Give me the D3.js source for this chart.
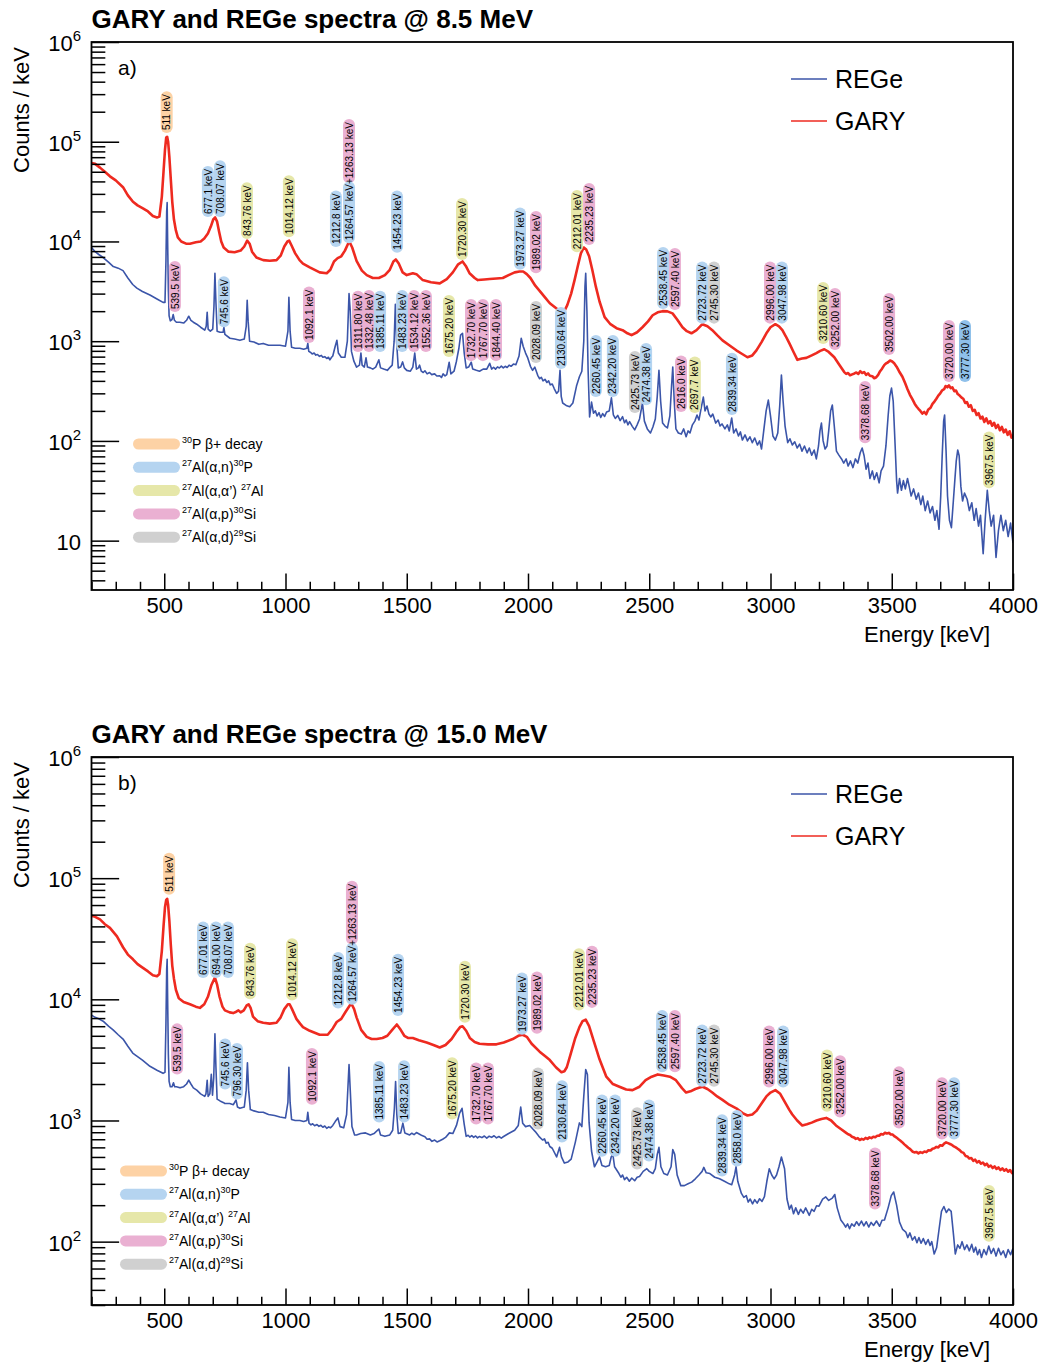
<!DOCTYPE html>
<html>
<head>
<meta charset="utf-8">
<script src="https://cdn.jsdelivr.net/npm/d3@7"></script>
<style>
  body { margin: 0; background: #fff; }
  svg { display: block; }
  text { font-family: "Liberation Sans", Arial, Helvetica, sans-serif; fill: #000; }
</style>
</head>
<body>
<svg id="chart" width="1042" height="1364"></svg>
<script>
// ---------- data: [energy keV, counts/keV] ----------
const energyMajorTicks = [500, 1000, 1500, 2000, 2500, 3000, 3500, 4000];

const garyA = [[200,61000],[215,60000],[235,55000],[255,50000],[276,45000],[300,41000],[330,35000],[350,29000],[371,25000],[390,23000],[412,21500],[433,20000],[453,18000],[470,17400],[480,17800],[490,28000],[497,50000],[503,83000],[508,110000],[512,112000],[516,100000],[521,71000],[527,42000],[533,25000],[540,16600],[548,12900],[556,11000],[570,10000],[590,9500],[606,9500],[630,9800],[650,10000],[665,10700],[680,12000],[692,14100],[702,16600],[710,17400],[718,15800],[726,12600],[735,10000],[745,8700],[765,7900],[790,7800],[815,8100],[830,8900],[842,10200],[852,9500],[862,7900],[880,6900],[908,6500],[935,6400],[963,6500],[980,7200],[995,8900],[1008,10000],[1015,10200],[1025,9100],[1040,7600],[1058,6500],[1072,6000],[1100,5500],[1141,4900],[1170,4800],[1185,5200],[1200,6300],[1215,6800],[1230,7100],[1245,8100],[1258,9500],[1265,9800],[1275,8700],[1293,6400],[1315,5100],[1335,4600],[1360,4300],[1385,4300],[1410,4600],[1430,5200],[1445,6300],[1455,6600],[1467,6000],[1483,4900],[1500,4600],[1525,4800],[1540,4700],[1566,4100],[1600,3900],[1636,3800],[1665,4200],[1690,4900],[1712,5900],[1730,6300],[1745,5600],[1759,4800],[1780,4300],[1793,4100],[1820,4150],[1842,4200],[1870,4250],[1896,4300],[1920,4600],[1945,4900],[1965,5000],[1980,5000],[1995,4700],[2010,4300],[2030,3600],[2048,3200],[2070,2750],[2090,2400],[2115,2150],[2138,1950],[2150,2000],[2162,2300],[2178,3000],[2192,4100],[2205,5600],[2218,7600],[2230,8700],[2240,8300],[2252,7100],[2265,5200],[2280,3500],[2295,2500],[2316,1740],[2340,1480],[2365,1350],[2390,1290],[2410,1200],[2427,1150],[2450,1230],[2472,1380],[2495,1580],[2514,1820],[2535,1950],[2555,2000],[2575,1990],[2596,1900],[2615,1650],[2637,1380],[2655,1260],[2674,1200],[2695,1290],[2719,1480],[2740,1410],[2760,1290],[2780,1150],[2802,1020],[2830,910],[2859,810],[2885,740],[2905,690],[2925,720],[2942,810],[2963,980],[2983,1200],[3000,1380],[3020,1480],[3035,1410],[3049,1290],[3063,1120],[3078,950],[3095,780],[3111,650],[3130,670],[3148,680],[3170,720],[3189,760],[3205,800],[3222,830],[3240,780],[3263,690],[3285,575],[3304,490],[3312,470],[3320,480],[3328,455],[3337,465],[3346,475],[3354,485],[3362,470],[3370,500],[3378,480],[3386,490],[3394,460],[3402,475],[3410,450],[3420,445],[3428,425],[3436,435],[3444,460],[3452,500],[3460,530],[3469,575],[3477,600],[3485,615],[3493,640],[3502,625],[3510,600],[3520,555],[3530,500],[3544,440],[3555,380],[3565,330],[3575,290],[3585,262],[3595,235],[3603,220],[3610,210],[3618,200],[3626,188],[3634,195],[3642,185],[3650,205],[3660,215],[3668,235],[3676,248],[3684,265],[3692,285],[3700,300],[3708,322],[3716,330],[3722,355],[3729,345],[3736,360],[3743,338],[3750,345],[3758,315],[3765,320],[3772,295],[3780,285],[3788,272],[3795,265],[3803,240],[3810,245],[3818,220],[3826,228],[3834,200],[3842,205],[3850,182],[3858,190],[3866,168],[3874,175],[3882,155],[3890,168],[3898,150],[3906,158],[3914,142],[3922,152],[3930,135],[3938,145],[3946,128],[3954,138],[3962,122],[3970,130],[3978,115],[3986,125],[3994,108],[4000,115]];

const regeA = [[200,8700],[215,7900],[230,7400],[248,6900],[270,6200],[290,5600],[310,5400],[330,5100],[350,4300],[370,3700],[387,3400],[410,3150],[441,2900],[470,2650],[495,2450],[503,2450],[507,6300],[510,20000],[512,24500],[514,10000],[517,3200],[520,1800],[525,1600],[532,1650],[537,1850],[542,1620],[550,1550],[564,1550],[580,1520],[592,1620],[601,1780],[610,1620],[620,1550],[634,1480],[650,1380],[667,1290],[673,1410],[677,1950],[681,1320],[690,1260],[700,1320],[705,2240],[709,4800],[713,2500],[718,1260],[730,1230],[743,1230],[746,1380],[750,1170],[771,1070],[790,1050],[812,1020],[830,1050],[838,1410],[842,2570],[846,1580],[852,1000],[870,980],[890,930],[908,950],[930,910],[955,910],[977,910],[1000,890],[1010,1260],[1014,2750],[1019,1260],[1025,870],[1040,850],[1059,850],[1075,830],[1088,850],[1092,950],[1096,790],[1104,770],[1110,745],[1118,760],[1125,725],[1132,735],[1140,705],[1148,720],[1154,690],[1162,700],[1170,670],[1177,690],[1183,650],[1190,690],[1195,710],[1205,890],[1212,1020],[1218,760],[1230,690],[1245,690],[1255,1000],[1262,3000],[1267,2000],[1272,790],[1282,630],[1293,550],[1305,575],[1311,760],[1316,575],[1325,550],[1332,680],[1338,550],[1350,540],[1360,525],[1372,550],[1385,650],[1392,540],[1405,525],[1420,510],[1432,550],[1440,575],[1448,1000],[1453,2350],[1458,1000],[1465,540],[1475,550],[1483,620],[1490,540],[1500,510],[1515,500],[1525,550],[1533,760],[1540,525],[1548,540],[1553,575],[1560,500],[1568,485],[1575,505],[1584,470],[1594,485],[1603,462],[1615,470],[1624,448],[1636,450],[1643,432],[1650,470],[1658,448],[1665,462],[1675,615],[1682,470],[1695,500],[1705,630],[1715,850],[1722,1150],[1730,1200],[1737,760],[1745,540],[1755,550],[1766,615],[1772,525],[1787,510],[1800,500],[1815,525],[1830,525],[1842,600],[1850,525],[1858,548],[1866,525],[1874,552],[1882,538],[1890,562],[1898,540],[1906,560],[1914,545],[1922,575],[1930,560],[1940,590],[1950,580],[1963,710],[1972,1070],[1980,890],[1990,760],[1999,680],[2010,560],[2019,510],[2028,550],[2040,455],[2048,420],[2055,435],[2062,400],[2070,415],[2078,385],[2085,400],[2092,365],[2100,372],[2108,335],[2118,300],[2126,315],[2132,510],[2137,280],[2143,240],[2160,225],[2172,220],[2185,240],[2200,355],[2212,440],[2222,500],[2230,1000],[2235,3550],[2238,4800],[2243,2000],[2248,500],[2254,174],[2262,245],[2270,190],[2278,200],[2285,178],[2293,192],[2300,172],[2308,188],[2316,176],[2324,195],[2335,200],[2344,270],[2352,182],[2360,168],[2370,180],[2380,160],[2390,175],[2398,152],[2405,162],[2412,145],[2419,156],[2430,140],[2440,129],[2450,145],[2460,166],[2472,240],[2480,158],[2492,132],[2505,120],[2515,138],[2525,166],[2533,280],[2540,510],[2547,250],[2555,151],[2565,141],[2575,135],[2585,178],[2592,355],[2597,550],[2603,250],[2610,132],[2620,120],[2632,117],[2642,132],[2652,110],[2660,126],[2668,120],[2678,145],[2688,158],[2697,182],[2705,162],[2715,219],[2723,275],[2730,200],[2738,224],[2746,186],[2754,174],[2762,186],[2774,151],[2784,162],[2792,141],[2800,148],[2812,132],[2822,145],[2830,126],[2840,170],[2848,120],[2858,132],[2868,112],[2876,123],[2884,102],[2895,115],[2905,100],[2915,110],[2925,96],[2935,107],[2946,91],[2955,100],[2963,83],[2972,126],[2982,200],[2991,257],[3000,178],[3010,112],[3020,102],[3030,120],[3038,224],[3045,457],[3052,250],[3060,141],[3071,96],[3080,105],[3090,91],[3100,98],[3110,85],[3120,93],[3130,79],[3140,89],[3151,76],[3160,85],[3170,72],[3180,81],[3189,66],[3198,89],[3204,126],[3210,151],[3217,100],[3225,83],[3233,89],[3240,126],[3248,200],[3255,229],[3263,141],[3272,79],[3282,72],[3293,66],[3302,60],[3312,66],[3320,56],[3330,63],[3340,54],[3350,66],[3360,60],[3370,76],[3378,85],[3386,71],[3394,52],[3402,60],[3410,42],[3420,50],[3428,41],[3438,48],[3448,38],[3456,50],[3466,56],[3476,89],[3485,178],[3492,282],[3499,339],[3506,251],[3514,89],[3520,40],[3524,30],[3532,42],[3540,32],[3548,40],[3556,33],[3565,42],[3572,35],[3580,28],[3590,33],[3601,26],[3610,30],[3620,23],[3628,28],[3638,20],[3648,25],[3658,19],[3668,22],[3678,16],[3686,20],[3695,13],[3702,28],[3708,71],[3714,158],[3718,182],[3724,79],[3730,28],[3738,16],[3746,13.5],[3754,25],[3760,40],[3766,63],[3772,81],[3778,71],[3785,35],[3792,25],[3800,30],[3811,26],[3820,20],[3830,24],[3840,16],[3848,21],[3858,14],[3866,18],[3877,7.4],[3885,16],[3894,32],[3902,20],[3910,14],[3920,18],[3930,6.8],[3940,12.6],[3950,18],[3960,12.6],[3970,16],[3980,11],[3990,15],[4000,9.5]];

const garyB = [[200,49000],[215,48000],[235,45700],[255,41700],[276,38900],[305,33100],[330,26900],[350,23400],[371,21400],[390,19500],[412,18200],[433,17000],[453,15800],[470,15500],[480,16200],[490,25000],[497,40000],[503,57500],[508,66000],[512,67600],[516,60000],[521,44700],[527,28200],[533,19000],[540,14800],[548,12000],[560,10200],[580,9500],[606,9100],[630,8700],[647,8500],[665,9100],[680,10500],[695,13200],[709,15100],[718,13200],[728,10500],[740,8700],[750,8100],[770,7800],[784,7700],[797,7900],[806,8100],[815,7800],[828,8100],[840,8900],[848,9100],[856,8500],[866,7200],[885,6600],[908,6400],[935,6300],[963,6400],[980,7100],[995,8300],[1010,9100],[1017,9100],[1027,8300],[1045,6900],[1060,6300],[1072,5900],[1100,5500],[1141,5100],[1174,5100],[1195,5750],[1211,6500],[1230,6900],[1248,7900],[1265,8900],[1273,9100],[1283,8300],[1293,7100],[1312,5600],[1335,4900],[1355,4700],[1376,4700],[1400,4800],[1420,5000],[1440,5600],[1459,6200],[1475,5600],[1490,5000],[1505,4800],[1525,4800],[1550,4600],[1582,4400],[1610,4200],[1636,4000],[1660,4200],[1685,4700],[1705,5400],[1720,5900],[1730,6000],[1745,5500],[1760,4800],[1780,4450],[1800,4300],[1835,4250],[1870,4250],[1900,4400],[1937,4700],[1960,5000],[1978,5100],[1995,4900],[2015,4300],[2048,3700],[2070,3400],[2090,3150],[2115,2750],[2138,2500],[2150,2550],[2160,2750],[2177,3600],[2195,4800],[2212,5900],[2225,6600],[2238,6800],[2252,6000],[2270,4600],[2295,3200],[2323,2300],[2350,2000],[2377,1900],[2405,1800],[2431,1780],[2460,1900],[2485,2150],[2510,2300],[2535,2400],[2560,2350],[2585,2300],[2610,2150],[2635,1850],[2652,1700],[2670,1740],[2690,1820],[2705,1860],[2720,1900],[2740,1820],[2760,1700],[2780,1580],[2802,1480],[2830,1350],[2859,1260],[2885,1150],[2905,1100],[2925,1120],[2942,1200],[2963,1380],[2983,1580],[3000,1700],[3020,1780],[3040,1660],[3060,1410],[3077,1230],[3090,1120],[3110,1000],[3131,910],[3150,930],[3170,960],[3190,1000],[3210,1030],[3230,1050],[3250,1000],[3270,910],[3290,850],[3312,790],[3320,770],[3328,760],[3336,735],[3344,725],[3352,705],[3360,715],[3368,690],[3376,705],[3384,695],[3392,718],[3400,705],[3408,725],[3416,715],[3424,735],[3432,728],[3440,748],[3448,750],[3456,772],[3464,765],[3472,792],[3480,780],[3488,790],[3496,768],[3504,765],[3512,738],[3520,722],[3528,700],[3536,680],[3543,662],[3552,635],[3560,615],[3568,595],[3576,580],[3585,555],[3593,545],[3601,550],[3610,535],[3618,548],[3626,540],[3635,555],[3643,548],[3651,568],[3660,565],[3668,585],[3676,590],[3684,605],[3692,600],[3700,625],[3708,618],[3716,645],[3724,660],[3732,650],[3740,640],[3748,628],[3756,612],[3764,600],[3772,585],[3780,570],[3788,548],[3796,540],[3804,510],[3812,505],[3820,485],[3828,490],[3836,465],[3844,475],[3852,450],[3860,462],[3868,440],[3876,450],[3884,428],[3892,440],[3900,415],[3908,425],[3916,405],[3924,418],[3932,398],[3940,410],[3948,390],[3956,402],[3964,385],[3972,396],[3980,378],[3988,390],[3996,368],[4000,378]];

const regeB = [[200,7400],[215,7100],[230,6900],[248,6600],[270,6000],[289,5600],[310,5100],[330,4700],[350,4100],[370,3600],[387,3400],[410,3150],[441,2800],[470,2600],[495,2450],[503,2500],[507,6300],[510,17800],[512,21400],[514,10000],[517,3500],[520,2100],[525,1900],[532,1900],[538,2050],[543,1900],[550,1900],[565,1860],[580,1900],[592,2000],[601,2150],[610,2000],[620,1860],[634,1780],[650,1660],[667,1580],[672,1660],[677,2150],[681,1580],[688,1660],[694,2400],[699,1620],[704,2240],[709,5200],[713,2800],[718,1500],[730,1450],[743,1410],[750,1380],[770,1380],[785,1350],[796,1480],[802,1290],[812,1260],[830,1290],[838,1780],[843,3000],[848,1780],[855,1230],[870,1200],[890,1170],[908,1170],[930,1120],[955,1100],[977,1070],[1000,1050],[1010,1410],[1014,2750],[1019,1410],[1025,1020],[1040,1000],[1059,1000],[1075,980],[1088,1000],[1092,1170],[1097,950],[1105,920],[1112,940],[1120,905],[1130,925],[1138,895],[1146,912],[1154,880],[1162,900],[1170,862],[1178,885],[1186,870],[1195,910],[1205,980],[1216,1050],[1225,890],[1240,870],[1252,1120],[1262,2900],[1267,1780],[1274,890],[1285,760],[1293,760],[1310,780],[1330,790],[1350,760],[1365,780],[1385,850],[1392,760],[1410,740],[1430,760],[1442,830],[1449,1260],[1454,2100],[1459,1120],[1465,780],[1475,790],[1484,950],[1492,790],[1512,760],[1521,785],[1530,765],[1540,795],[1553,770],[1563,750],[1575,735],[1584,700],[1594,705],[1604,672],[1615,690],[1625,665],[1636,680],[1648,700],[1660,725],[1676,790],[1690,780],[1705,910],[1718,1150],[1728,1260],[1737,930],[1745,740],[1753,755],[1760,730],[1768,750],[1776,725],[1784,745],[1792,718],[1800,738],[1810,722],[1820,745],[1830,715],[1840,742],[1850,725],[1860,748],[1870,718],[1880,738],[1890,715],[1896,730],[1920,780],[1945,830],[1960,910],[1970,1290],[1978,950],[1990,890],[2007,910],[2020,850],[2030,810],[2045,740],[2060,690],[2068,705],[2075,650],[2083,660],[2090,610],[2100,590],[2118,500],[2130,600],[2138,500],[2150,445],[2165,455],[2178,480],[2195,660],[2212,955],[2222,890],[2230,1580],[2238,2630],[2245,2400],[2252,955],[2262,560],[2274,415],[2285,455],[2295,500],[2305,425],[2320,415],[2335,425],[2343,500],[2350,525],[2357,415],[2375,365],[2383,340],[2390,355],[2398,325],[2407,340],[2418,315],[2428,335],[2440,318],[2450,340],[2460,345],[2475,380],[2490,400],[2500,380],[2515,365],[2525,400],[2533,525],[2540,600],[2548,415],[2560,365],[2575,355],[2590,415],[2597,575],[2605,525],[2615,355],[2630,290],[2645,290],[2660,300],[2675,310],[2690,330],[2705,355],[2718,380],[2725,410],[2735,370],[2750,365],[2770,340],[2790,330],[2810,315],[2830,300],[2840,295],[2852,355],[2858,415],[2865,315],[2880,250],[2890,232],[2900,240],[2908,212],[2916,225],[2926,205],[2935,222],[2945,208],[2955,226],[2965,215],[2975,235],[2985,315],[2995,400],[3005,355],[3015,330],[3025,355],[3035,415],[3045,500],[3058,400],[3068,225],[3078,185],[3086,200],[3095,170],[3104,190],[3115,168],[3124,185],[3135,172],[3145,190],[3160,165],[3170,185],[3180,178],[3190,198],[3200,196],[3215,224],[3228,234],[3240,219],[3255,229],[3265,245],[3275,190],[3290,151],[3300,142],[3310,132],[3318,140],[3326,128],[3335,140],[3345,134],[3355,146],[3365,136],[3375,148],[3385,135],[3395,146],[3405,132],[3415,144],[3425,136],[3437,148],[3450,134],[3460,150],[3470,151],[3485,190],[3498,240],[3508,257],[3520,200],[3532,145],[3545,126],[3558,120],[3566,108],[3575,118],[3585,103],[3595,110],[3604,98],[3612,108],[3621,97],[3630,106],[3640,95],[3650,104],[3658,93],[3665,100],[3675,79],[3685,89],[3695,126],[3705,178],[3715,195],[3725,174],[3735,186],[3745,178],[3755,112],[3762,79],[3772,94],[3781,88],[3790,100],[3800,86],[3810,94],[3820,84],[3830,95],[3838,82],[3846,90],[3854,78],[3862,86],[3870,74],[3880,86],[3890,78],[3900,92],[3910,80],[3920,88],[3930,76],[3940,88],[3950,78],[3960,84],[3970,74],[3980,86],[3990,78],[4000,88]];

// peak annotations: [text, reaction class, anchor energy, counts at pill base]
const peaksA = [
  ["511 keV","o",510,122000],["677.1 keV","b",680,17600],["708.07 keV","b",730,17600],
  ["843.76 keV","y",841,10600],["1014.12 keV","y",1014,11000],["1212.8 keV","b",1208,8800],
  ["1264.57 keV+1263.13 keV","b+p",1262,9600],["1454.23 keV","b",1460,7700],
  ["1720.30 keV","y",1728,6500],["1973.27 keV","b",1967,5200],["1989.02 keV","p",2033,4800],
  ["2212.01 keV","y",2202,7800],["2235.23 keV","p",2252,9200],["2538.45 keV","b",2557,2100],
  ["2597.40 keV","p",2606,2050],["2723.72 keV","b",2718,1500],["2745.30 keV","g",2767,1500],
  ["2996.00 keV","p",2998,1500],["3047.98 keV","b",3047,1500],["3210.60 keV","y",3217,935],
  ["3252.00 keV","p",3266,815],["3502.00 keV","p",3489,726],["3720.00 keV","p",3736,389],
  ["3777.30 keV","B",3802,389],
  ["539.5 keV","p",544,1960],["745.6 keV","b",746,1380],["1092.1 keV","p",1097,957],
  ["1311.80 keV","p",1299,778],["1332.48 keV","p",1344,778],["1385.11 keV","b",1390,778],
  ["1483.23 keV","b",1481,778],["1534.12 keV","p",1530,778],["1552.36 keV","p",1579,778],
  ["1675.20 keV","y",1674,693],["1732.70 keV","p",1765,631],["1767.70 keV","p",1814,631],
  ["1844.40 keV","p",1868,631],["2028.09 keV","g",2033,603],["2130.64 keV","b",2136,525],
  ["2260.45 keV","b",2280,275],["2342.20 keV","b",2350,275],["2425.73 keV","g",2441,190],
  ["2474.38 keV","b",2487,228],["2616.0 keV","p",2631,195],["2697.7 keV","y",2688,190],
  ["2839.34 keV","b",2841,182],["3378.68 keV","p",3390,95],["3967.5 keV","y",3901,33.6]
];
const peaksB = [
  ["511 keV","o",520,73000],["677.01 keV","b",660,15000],["694.00 keV","b",713,15000],
  ["708.07 keV","b",763,15000],["843.76 keV","y",854,10000],["1014.12 keV","y",1027,9800],
  ["1212.8 keV","b",1217,8400],["1264.57 keV+1263.13 keV","b+p",1274,9000],
  ["1454.23 keV","b",1464,7300],["1720.30 keV","y",1740,6400],["1973.27 keV","b",1975,5100],
  ["1989.02 keV","p",2037,5200],["2212.01 keV","y",2210,8100],["2235.23 keV","p",2264,8500],
  ["2538.45 keV","b",2553,2500],["2597.40 keV","p",2606,2500],["2723.72 keV","b",2718,1900],
  ["2745.30 keV","g",2767,1900],["2996.00 keV","p",2994,1870],["3047.98 keV","b",3052,1870],
  ["3210.60 keV","y",3233,1180],["3252.00 keV","p",3287,1060],["3502.00 keV","p",3530,858],
  ["3720.00 keV","p",3707,697],["3777.30 keV","b",3757,697],
  ["539.5 keV","p",553,2400],["745.6 keV","b",751,1800],["796.30 keV","b",800,1490],
  ["1092.1 keV","p",1109,1350],["1385.11 keV","b",1386,962],["1483.23 keV","b",1489,962],
  ["1675.20 keV","y",1687,1020],["1732.70 keV","p",1786,925],["1767.70 keV","p",1835,925],
  ["2028.09 keV","g",2041,841],["2130.64 keV","b",2140,658],["2260.45 keV","b",2305,502],
  ["2342.20 keV","b",2359,502],["2425.73 keV","g",2450,394],["2474.38 keV","b",2499,458],
  ["2839.34 keV","b",2800,345],["2858.0 keV","b",2862,417],["3378.68 keV","p",3431,184],
  ["3967.5 keV","y",3901,100]
];

// reaction classes for the colour key (superscript parts marked with ^)
const reactionKeys = ["o","b","y","p","g"];
const reactionNames = [
  [["^","30"],["","P \u03b2+ decay"]],
  [["^","27"],["","Al(\u03b1,n)"],["^","30"],["","P"]],
  [["^","27"],["","Al(\u03b1,\u03b1\u2019) "],["^","27"],["","Al"]],
  [["^","27"],["","Al(\u03b1,p)"],["^","30"],["","Si"]],
  [["^","27"],["","Al(\u03b1,d)"],["^","29"],["","Si"]]
];
const detectorNames = ["REGe", "GARY"];

// ---------- styling ----------
const pillFill = { o: "#fdd2a5", b: "#b5d4f0", y: "#e6e7a9", p: "#eab0d2", g: "#d0d0d0", B: "#8fc0ea" };
const lineColor = { REGe: "#3b55a9", GARY: "#ee2a20" };

const X0 = 91.5, X1 = 1013;
const svg = d3.select("#chart");
const x = d3.scaleLinear().domain([200, 4000]).range([X0, X1]);

function drawPanel(p) {
  const y = d3.scaleLog().domain([p.yMin, 1e6]).range([p.bottom, p.top]);
  const g = svg.append("g");
  const plotW = X1 - X0, plotH = p.bottom - p.top;

  svg.append("defs").append("clipPath").attr("id", "clip" + p.tag)
    .append("rect").attr("x", X0).attr("y", p.top).attr("width", plotW).attr("height", plotH);

  // title
  g.append("text").attr("x", X0).attr("y", p.top - 14)
    .attr("font-size", 26).attr("font-weight", "bold").text(p.title);

  // y axis title
  g.append("text")
    .attr("transform", `translate(29,${p.top + 68}) rotate(-90)`)
    .attr("text-anchor", "middle").attr("font-size", 22).text("Counts / keV");

  // x axis title
  g.append("text").attr("x", 990).attr("y", p.bottom + 52)
    .attr("text-anchor", "end").attr("font-size", 22).text("Energy [keV]");

  // spectra
  const line = d3.line().x(d => x(d[0])).y(d => y(d[1]));
  const curves = g.append("g").attr("clip-path", `url(#clip${p.tag})`);
  curves.append("path").datum(p.gary).attr("d", line)
    .attr("fill", "none").attr("stroke", lineColor.GARY).attr("stroke-width", 2.6)
    .attr("stroke-linejoin", "round");
  curves.append("path").datum(p.rege).attr("d", line)
    .attr("fill", "none").attr("stroke", lineColor.REGe).attr("stroke-width", 1.6)
    .attr("stroke-linejoin", "round");

  // axes: ticks point into the frame
  const decades = d3.range(Math.ceil(Math.log10(p.yMin)), 7).map(k => Math.pow(10, k));
  const minorY = y.ticks().filter(v => Math.abs(Math.log10(v) - Math.round(Math.log10(v))) > 1e-6);
  const styleAxis = sel => {
    sel.select(".domain").remove();
    sel.selectAll("line").attr("stroke", "#000").attr("stroke-width", 1.5);
  };
  g.append("g").attr("transform", `translate(${X0},0)`)
    .call(d3.axisLeft(y).tickValues(decades).tickSize(-plotW * 0.03).tickSizeOuter(0).tickFormat(""))
    .call(styleAxis);
  g.append("g").attr("transform", `translate(${X0},0)`)
    .call(d3.axisLeft(y).tickValues(minorY).tickSize(-plotW * 0.015).tickSizeOuter(0).tickFormat(""))
    .call(styleAxis);

  const minorX = d3.range(200, 4001, 100).filter(v => v % 500 !== 0);
  g.append("g").attr("transform", `translate(0,${p.bottom})`)
    .call(d3.axisBottom(x).tickValues(minorX).tickSize(-plotH * 0.015).tickSizeOuter(0).tickFormat(""))
    .call(styleAxis);
  const xa = g.append("g").attr("transform", `translate(0,${p.bottom})`)
    .call(d3.axisBottom(x).tickValues(energyMajorTicks).tickSize(-plotH * 0.03)
      .tickSizeOuter(0).tickPadding(7).tickFormat(d3.format("d")))
    .call(styleAxis);
  xa.selectAll("text").attr("font-size", 22).attr("fill", "#000")
    .attr("font-family", '"Liberation Sans", Arial, Helvetica, sans-serif');

  // y labels: 10 with superscript exponent
  decades.forEach(v => {
    const k = Math.round(Math.log10(v));
    const t = g.append("text").attr("x", 81).attr("y", y(v) + 9)
      .attr("text-anchor", "end").attr("font-size", 22);
    t.append("tspan").text("10");
    if (k !== 1) t.append("tspan").attr("font-size", 15).attr("dy", -10).text(k);
  });

  // frame
  g.append("rect").attr("x", X0).attr("y", p.top).attr("width", plotW).attr("height", plotH)
    .attr("fill", "none").attr("stroke", "#000").attr("stroke-width", 1.8);

  // panel tag
  g.append("text").attr("x", 118).attr("y", p.top + 33).attr("font-size", 21).text(p.tag + ")");

  // peak annotations (vertical pills)
  const labels = g.append("g");
  p.peaks.forEach(([txt, cls, e, c]) => {
    const lg = labels.append("g").attr("transform", `translate(${x(e)},${y(c)}) rotate(-90)`);
    const t = lg.append("text").attr("x", 3).attr("y", 0).attr("dy", "0.36em")
      .attr("font-size", 10).text(txt);
    const len = t.node().getComputedTextLength();
    if (cls.includes("+")) {
      const [c1, c2] = cls.split("+");
      const cut = txt.indexOf("+");
      const w1 = t.node().getSubStringLength(0, cut) + t.node().getSubStringLength(cut, 1) / 2 + 3;
      lg.insert("rect", "text").attr("x", w1 - 2).attr("y", -6).attr("width", len + 6 - w1 + 2)
        .attr("height", 12).attr("rx", 6).attr("fill", pillFill[c2]);
      lg.insert("rect", "text").attr("x", 0).attr("y", -6).attr("width", w1)
        .attr("height", 12).attr("rx", 6).attr("fill", pillFill[c1]);
    } else {
      lg.insert("rect", "text").attr("x", 0).attr("y", -6).attr("width", len + 6)
        .attr("height", 12).attr("rx", 6).attr("fill", pillFill[cls]);
    }
  });

  // detector legend
  detectorNames.forEach((name, i) => {
    const yy = p.top + 37 + i * 42;
    g.append("line").attr("x1", 791).attr("x2", 827).attr("y1", yy).attr("y2", yy)
      .attr("stroke", lineColor[name]).attr("stroke-width", 1.5);
    g.append("text").attr("x", 835).attr("y", yy).attr("dy", "0.36em")
      .attr("font-size", 25).text(name);
  });

  // reaction colour key
  reactionKeys.forEach((k, i) => {
    const yy = p.top + p.keyTop + i * 23.3;
    g.append("rect").attr("x", p.keyX).attr("y", yy - 5.5).attr("width", 47).attr("height", 11)
      .attr("rx", 5.5).attr("fill", pillFill[k]);
    const t = g.append("text").attr("x", p.keyX + 49).attr("y", yy + 5).attr("font-size", 14);
    let up = false;
    reactionNames[i].forEach(([kind, s]) => {
      if (kind === "^") {
        t.append("tspan").attr("font-size", 9).attr("dy", up ? 0 : -6).text(s); up = true;
      } else {
        t.append("tspan").attr("dy", up ? 6 : 0).text(s); up = false;
      }
    });
  });
}

drawPanel({ tag: "a", title: "GARY and REGe spectra @ 8.5 MeV", top: 42, bottom: 590, yMin: 3.2,
  gary: garyA, rege: regeA, peaks: peaksA, keyX: 133, keyTop: 402 });
drawPanel({ tag: "b", title: "GARY and REGe spectra @ 15.0 MeV", top: 757, bottom: 1305, yMin: 30,
  gary: garyB, rege: regeB, peaks: peaksB, keyX: 120, keyTop: 414 });
</script>
</body>
</html>
